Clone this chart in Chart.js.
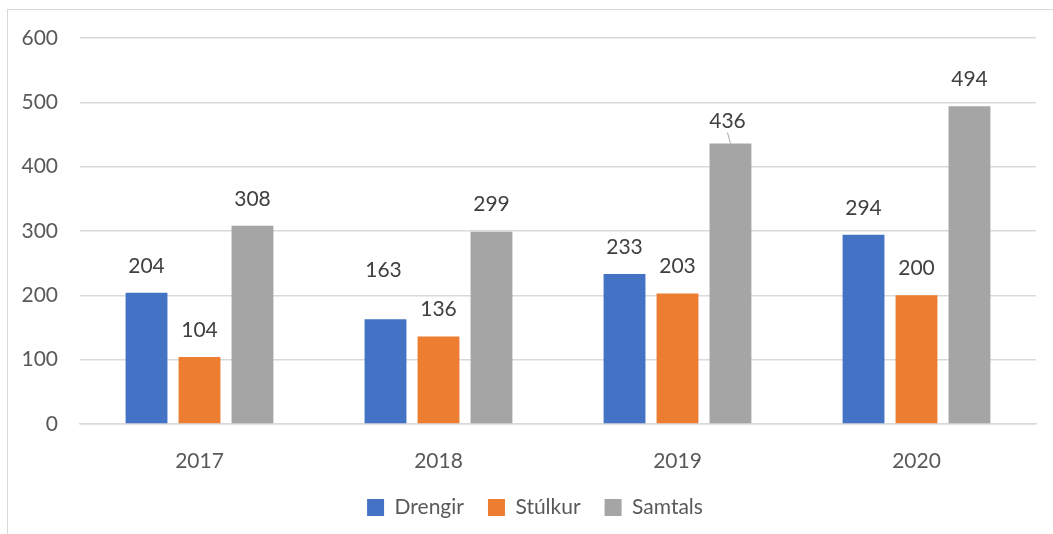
<!DOCTYPE html>
<html>
<head>
<meta charset="utf-8">
<script src="https://cdn.jsdelivr.net/npm/chart.js@4.4.0/dist/chart.umd.min.js"></script>
<style>
  body { margin: 0; background: #fff; }
  #wrap { position: relative; width: 1053px; height: 534px; overflow: hidden; }
  #frame { position: absolute; left: 7px; top: 9px; width: 1100px; height: 600px; border: 1px solid #d9d9d9; box-sizing: border-box; }
  canvas { position: absolute; left: 0; top: 0; }
</style>
</head>
<body>
<div id="wrap">
  <div id="frame"></div>
  <canvas id="chart" width="1053" height="534"></canvas>
</div>
<script>
// data
var years = ["2017", "2018", "2019", "2020"];
var drengir = [204, 163, 233, 294];
var stulkur = [104, 136, 203, 200];
var samtals = [308, 299, 436, 494];
var yTicks = [0, 100, 200, 300, 400, 500, 600];

var fontFamily = "Lato, 'Liberation Sans', sans-serif";

// draws the value above each bar (Excel style data labels)
var valueLabels = {
  id: "valueLabels",
  afterDatasetsDraw: function(chart) {
    var ctx = chart.ctx;
    ctx.save();
    ctx.font = "21px " + fontFamily;
    ctx.fillStyle = "#404040";
    ctx.textAlign = "center";
    ctx.textBaseline = "middle";
    chart.data.datasets.forEach(function(ds, i) {
      var meta = chart.getDatasetMeta(i);
      meta.data.forEach(function(bar, j) {
        var x = bar.x;
        var y = bar.y - 27;
        // a couple of labels were dragged by hand in the original
        if (i === 0 && j === 1) {
          x = bar.x - 2;
          y = bar.y - 49;
        }
        if (i === 2 && j === 2) {
          x = bar.x - 3;
          y = bar.y - 22;
          ctx.strokeStyle = "#a6a6a6";
          ctx.lineWidth = 1;
          ctx.beginPath();
          ctx.moveTo(x, y + 11);
          ctx.lineTo(bar.x, bar.y);
          ctx.stroke();
        }
        ctx.fillText(ds.data[j], x, y);
      });
    });
    ctx.restore();
  }
};

// legend sits a bit right of the canvas centre in the original
var legendShift = {
  id: "legendShift",
  afterLayout: function(chart) {
    chart.legend.left += 17;
    chart.legend.right += 17;
  }
};

var ctx = document.getElementById("chart");

var chart = new Chart(ctx, {
  type: "bar",
  data: {
    labels: years,
    datasets: [
      { label: "Drengir", data: drengir, backgroundColor: "#4472C4" },
      { label: "Stúlkur", data: stulkur, backgroundColor: "#ED7D31" },
      { label: "Samtals", data: samtals, backgroundColor: "#A5A5A5" }
    ]
  },
  options: {
    responsive: false,
    animation: false,
    devicePixelRatio: 1,
    categoryPercentage: 0.665,
    barPercentage: 0.79,
    layout: { padding: { top: 38, right: 17, left: 0, bottom: 6 } },
    plugins: {
      legend: {
        position: "bottom",
        labels: {
          boxWidth: 17,
          boxHeight: 17,
          padding: 24,
          color: "#595959",
          font: { family: fontFamily, size: 21 }
        }
      },
      tooltip: { enabled: false }
    },
    scales: {
      x: {
        grid: { display: false, drawTicks: false },
        border: { display: true, color: "#d9d9d9", width: 1.5 },
        ticks: { color: "#595959", padding: 25, font: { family: fontFamily, size: 21 } },
        afterFit: function(scale) { scale.height = 49; }
      },
      y: {
        min: 0,
        max: 600,
        afterBuildTicks: function(scale) {
          scale.ticks = yTicks.map(function(v) { return { value: v }; });
        },
        grid: { color: "#d9d9d9", lineWidth: 1.5, drawTicks: false },
        border: { display: false },
        ticks: { color: "#595959", padding: 22, font: { family: fontFamily, size: 21 } },
        afterFit: function(scale) { scale.width = 80; }
      }
    }
  },
  plugins: [valueLabels, legendShift]
});
</script>
</body>
</html>
